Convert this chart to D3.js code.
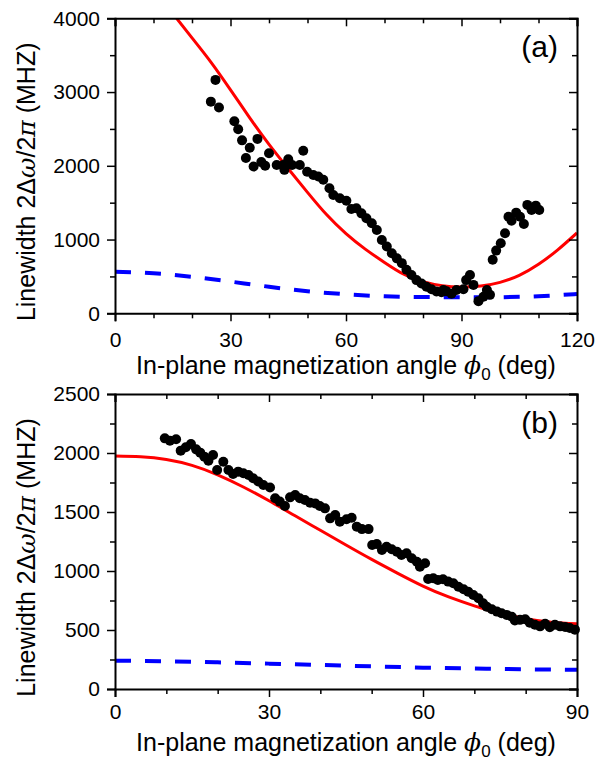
<!DOCTYPE html>
<html><head><meta charset="utf-8">
<script src="https://cdn.jsdelivr.net/npm/d3@7"></script>
<style>
body{margin:0;background:#fff}
svg text{font-family:"Liberation Sans",Arial,sans-serif;fill:#000}
</style>
</head><body>
<svg id="c" width="597" height="762"></svg>
<script>
// ---------- Panel (a) data ----------
const aDotAngle = [24.9,26.1,27.0,31.0,32.0,33.0,34.0,35.0,36.0,37.0,38.0,39.0,40.0,42.0,43.7,44.0,45.0,46.0,48.0,48.9,49.9,51.5,52.8,54.1,55.7,56.7,58.4,60.1,61.4,62.7,64.0,65.3,66.7,68.0,69.3,70.6,71.9,73.2,74.5,75.7,77.0,78.3,79.6,80.9,82.2,83.5,84.8,85.3,86.1,87.4,88.7,90.5,91.2,92.2,93.1,94.4,95.7,96.6,97.4,98.1,99.0,100.2,101.3,102.2,103.0,104.2,105.2,106.2,107.1,108.2,109.3,110.2];
const aDotWidth = [2870,3165,2790,2605,2495,2345,2105,2245,1990,2365,2050,2000,2170,2010,2010,1945,2090,2010,2010,2205,1920,1875,1855,1810,1695,1605,1560,1525,1415,1425,1355,1290,1220,1130,995,905,815,745,680,590,520,450,405,360,325,295,285,315,300,265,315,325,450,520,385,165,225,315,250,725,850,950,1085,1310,1255,1365,1310,1210,1470,1400,1460,1400];
const aFitAngle = [16,20,25,30,35,40,45,50,55,60,65,70,75,80,85,90,95,100,105,110,115,120];
const aFitWidth = [4000,3735,3400,3030,2650,2290,1960,1640,1335,1080,870,690,530,430,375,358,370,420,515,665,860,1090];
const aCalcAngle = [0,10,20,30,40,50,60,70,80,90,100,110,120];
const aCalcWidth = [565,542,495,430,360,300,258,230,220,218,218,232,262];
const aXTicks = [0,30,60,90,120];
const aXMinor = [10,20,40,50,70,80,100,110];
const aYTicks = [0,1000,2000,3000,4000];
const aYMinor = [500,1500,2500,3500];

// ---------- Panel (b) data ----------
const bDotAngle = [9.7,10.7,11.9,12.8,13.8,14.8,15.8,16.6,17.4,18.2,19.1,19.9,21.1,22.1,23.0,24.0,25.0,26.0,26.9,27.9,28.9,30.2,31.2,32.1,33.1,34.1,35.1,36.0,37.0,38.0,39.0,39.9,40.9,41.9,42.9,43.8,45.1,46.1,47.1,48.1,49.4,50.1,51.0,52.0,52.9,53.9,54.9,55.8,56.8,57.8,58.8,59.4,60.4,61.0,62.0,62.9,63.9,64.9,65.9,66.9,67.9,68.8,69.8,70.8,71.7,72.4,73.4,74.4,75.3,76.3,77.3,77.9,78.9,79.9,80.8,81.8,82.8,83.8,84.7,85.7,86.7,87.7,88.6,89.6];
const bDotWidth = [2124,2104,2116,2020,2048,2076,2031,2003,1969,1935,1983,1856,1926,1856,1822,1842,1828,1814,1786,1758,1729,1708,1616,1588,1551,1624,1644,1616,1601,1579,1573,1551,1531,1446,1474,1418,1438,1452,1376,1355,1355,1220,1229,1178,1206,1184,1164,1136,1150,1108,1079,1037,1065,932,938,924,930,910,896,867,845,825,797,769,726,698,676,656,642,628,613,580,586,591,562,545,531,553,523,545,531,525,517,503];
const bFitAngle = [0,5,10,15,20,25,30,35,40,45,50,55,60,65,70,75,80,85,90];
const bFitWidth = [1975,1968,1945,1895,1815,1712,1595,1470,1345,1220,1098,982,872,780,705,642,596,566,552];
const bCalcAngle = [0,10,20,30,40,50,60,70,80,90];
const bCalcWidth = [240,235,226,215,204,192,181,173,167,163];
const bXTicks = [0,30,60,90];
const bXMinor = [10,20,40,50,70,80];
const bYTicks = [0,500,1000,1500,2000,2500];
const bYMinor = [250,750,1250,1750,2250];

const svg = d3.select("#c");

function panel(cfg){
  const x = d3.scaleLinear().domain(cfg.xDomain).range([115,577]);
  const y = d3.scaleLinear().domain(cfg.yDomain).range([cfg.bottom,cfg.top]);
  const g = svg.append("g");
  const clipId = "clip"+cfg.id;
  svg.append("defs").append("clipPath").attr("id",clipId)
    .append("rect").attr("x",115).attr("y",cfg.top).attr("width",462).attr("height",cfg.bottom-cfg.top);
  const plot = g.append("g").attr("clip-path",`url(#${clipId})`);
  const line = d3.line().x(d=>x(d[0])).y(d=>y(d[1])).curve(d3.curveNatural);
  plot.append("path").datum(d3.zip(cfg.fitX,cfg.fitY)).attr("d",line)
    .attr("fill","none").attr("stroke","#ff0000").attr("stroke-width",3);
  plot.append("path").datum(d3.zip(cfg.calcX,cfg.calcY)).attr("d",line)
    .attr("fill","none").attr("stroke","#0000ff").attr("stroke-width",4)
    .attr("stroke-dasharray","16,14");
  g.append("g").selectAll("circle").data(d3.zip(cfg.dotX,cfg.dotY)).join("circle")
    .attr("cx",d=>x(d[0])).attr("cy",d=>y(d[1])).attr("r",5).attr("fill","#000");

  function styleAxis(sel){
    sel.selectAll(".domain").attr("stroke-width",2);
    sel.selectAll(".tick line").attr("stroke-width",1.5);
    sel.selectAll("text").attr("font-size",21).attr("font-family","Liberation Sans, Arial, sans-serif");
  }
  const minorStyle = s=>{s.select(".domain").remove();s.selectAll("line").attr("stroke-width",1.5);};
  // bottom
  g.append("g").attr("transform",`translate(0,${cfg.bottom})`)
    .call(d3.axisBottom(x).tickValues(cfg.xTicks).tickSize(8).tickPadding(cfg.xPad).tickFormat(d3.format("d")))
    .call(styleAxis);
  g.append("g").attr("transform",`translate(0,${cfg.bottom})`)
    .call(d3.axisBottom(x).tickValues(cfg.xMinor).tickSize(5).tickFormat("")).call(minorStyle);
  // top (inside)
  g.append("g").attr("transform",`translate(0,${cfg.top})`)
    .call(d3.axisBottom(x).tickValues(cfg.xTicks).tickSize(8).tickFormat("")).call(styleAxis);
  g.append("g").attr("transform",`translate(0,${cfg.top})`)
    .call(d3.axisBottom(x).tickValues(cfg.xMinor).tickSize(5).tickFormat("")).call(minorStyle);
  // left
  g.append("g").attr("transform",`translate(115,0)`)
    .call(d3.axisLeft(y).tickValues(cfg.yTicks).tickSize(8).tickPadding(7).tickFormat(d3.format("d")))
    .call(styleAxis);
  g.append("g").attr("transform",`translate(115,0)`)
    .call(d3.axisLeft(y).tickValues(cfg.yMinor).tickSize(5).tickFormat("")).call(minorStyle);
  // right (inside)
  g.append("g").attr("transform",`translate(577,0)`)
    .call(d3.axisLeft(y).tickValues(cfg.yTicks).tickSize(8).tickFormat("")).call(styleAxis);
  g.append("g").attr("transform",`translate(577,0)`)
    .call(d3.axisLeft(y).tickValues(cfg.yMinor).tickSize(5).tickFormat("")).call(minorStyle);

  // panel label
  g.append("text").attr("x",558).attr("y",cfg.top+39).attr("text-anchor","end")
    .attr("font-size",30).text(cfg.label);

  // x title
  const xt = g.append("text").attr("x",346).attr("y",cfg.xTitleY).attr("text-anchor","middle").attr("font-size",25);
  xt.append("tspan").text("In-plane magnetization angle ");
  xt.append("tspan").attr("font-family","DejaVu Serif, serif").attr("font-style","italic").text("ϕ");
  xt.append("tspan").attr("font-size",17).attr("dy",6).text("0");
  xt.append("tspan").attr("dy",-6).text(" (deg)");

  // y title
  const cy = (cfg.top+cfg.bottom)/2 + 16;
  const yt = g.append("text").attr("transform",`translate(35,${cy}) rotate(-90)`)
    .attr("text-anchor","middle").attr("font-size",25);
  yt.append("tspan").text("Linewidth 2Δ");
  yt.append("tspan").attr("font-family","DejaVu Serif, serif").attr("font-style","italic").text("ω");
  yt.append("tspan").text("/2");
  yt.append("tspan").attr("font-family","DejaVu Serif, serif").attr("font-style","italic").text("π");
  yt.append("tspan").text(" (MHZ)");
}

panel({id:"a",xDomain:[0,120],yDomain:[0,4000],top:18.3,bottom:313.3,xPad:11,xTitleY:374,
  dotX:aDotAngle,dotY:aDotWidth,fitX:aFitAngle,fitY:aFitWidth,calcX:aCalcAngle,calcY:aCalcWidth,
  xTicks:aXTicks,xMinor:aXMinor,yTicks:aYTicks,yMinor:aYMinor,label:"(a)"});
panel({id:"b",xDomain:[0,90],yDomain:[0,2500],top:394,bottom:689,xPad:7,xTitleY:751,
  dotX:bDotAngle,dotY:bDotWidth,fitX:bFitAngle,fitY:bFitWidth,calcX:bCalcAngle,calcY:bCalcWidth,
  xTicks:bXTicks,xMinor:bXMinor,yTicks:bYTicks,yMinor:bYMinor,label:"(b)"});
</script>
</body></html>
